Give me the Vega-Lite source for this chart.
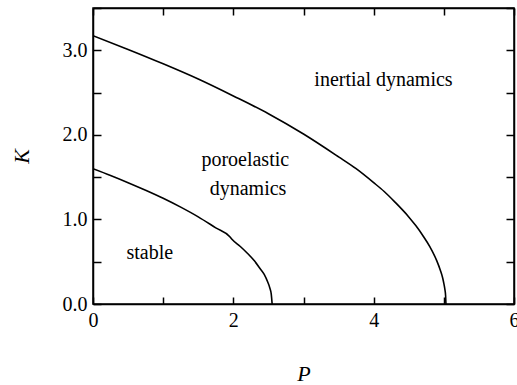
{
  "$schema": "https://vega.github.io/schema/vega-lite/v6.json",
  "width": 421,
  "height": 296,
  "autosize": {"type": "none"},
  "padding": {"left": 93, "top": 8, "right": 3, "bottom": 81},
  "background": "white",
  "config": {
    "view": {"stroke": "black", "strokeWidth": 1.5},
    "font": "Liberation Serif",
    "axis": {
      "grid": false,
      "domainColor": "black",
      "domainWidth": 1.5,
      "tickColor": "black",
      "tickWidth": 1.5,
      "labelColor": "black",
      "labelFont": "Liberation Serif",
      "labelFontSize": 20,
      "labelFlush": false,
      "labelOverlap": false,
      "titleFont": "Liberation Serif",
      "titleFontSize": 22,
      "titleFontStyle": "italic",
      "titleFontWeight": "normal",
      "titleColor": "black"
    }
  },
  "datasets": {
    "curves": [
      {"curve": "outer", "P": 0, "K": 3.172},
      {"curve": "outer", "P": 0.5, "K": 3.01},
      {"curve": "outer", "P": 1.0, "K": 2.84},
      {"curve": "outer", "P": 1.5, "K": 2.66},
      {"curve": "outer", "P": 2.0, "K": 2.46},
      {"curve": "outer", "P": 2.5, "K": 2.25},
      {"curve": "outer", "P": 3.0, "K": 2.01},
      {"curve": "outer", "P": 3.5, "K": 1.74},
      {"curve": "outer", "P": 3.75, "K": 1.6},
      {"curve": "outer", "P": 4.0, "K": 1.435},
      {"curve": "outer", "P": 4.15, "K": 1.33},
      {"curve": "outer", "P": 4.3, "K": 1.208},
      {"curve": "outer", "P": 4.5, "K": 1.03},
      {"curve": "outer", "P": 4.6, "K": 0.927},
      {"curve": "outer", "P": 4.7, "K": 0.81},
      {"curve": "outer", "P": 4.8, "K": 0.678},
      {"curve": "outer", "P": 4.9, "K": 0.51},
      {"curve": "outer", "P": 4.95, "K": 0.4},
      {"curve": "outer", "P": 4.98, "K": 0.32},
      {"curve": "outer", "P": 5.0, "K": 0.245},
      {"curve": "outer", "P": 5.015, "K": 0.173},
      {"curve": "outer", "P": 5.025, "K": 0.1},
      {"curve": "outer", "P": 5.03, "K": 0.0},
      {"curve": "inner", "P": 0, "K": 1.6},
      {"curve": "inner", "P": 0.25, "K": 1.52},
      {"curve": "inner", "P": 0.5, "K": 1.435},
      {"curve": "inner", "P": 0.75, "K": 1.345},
      {"curve": "inner", "P": 1.0, "K": 1.25},
      {"curve": "inner", "P": 1.25, "K": 1.145},
      {"curve": "inner", "P": 1.5, "K": 1.03},
      {"curve": "inner", "P": 1.75, "K": 0.9},
      {"curve": "inner", "P": 1.95, "K": 0.795},
      {"curve": "inner", "P": 1.98, "K": 0.765},
      {"curve": "inner", "P": 2.1, "K": 0.68},
      {"curve": "inner", "P": 2.2, "K": 0.6},
      {"curve": "inner", "P": 2.3, "K": 0.51},
      {"curve": "inner", "P": 2.38, "K": 0.42},
      {"curve": "inner", "P": 2.44, "K": 0.35},
      {"curve": "inner", "P": 2.49, "K": 0.26},
      {"curve": "inner", "P": 2.52, "K": 0.19},
      {"curve": "inner", "P": 2.54, "K": 0.12},
      {"curve": "inner", "P": 2.553, "K": 0.0}
    ],
    "labels": [
      {"P": 4.14, "K": 2.58, "text": "inertial dynamics"},
      {"P": 2.17, "K": 1.63, "text": "poroelastic"},
      {"P": 2.21, "K": 1.29, "text": "dynamics"},
      {"P": 0.81, "K": 0.53, "text": "stable"}
    ]
  },
  "layer": [
    {
      "data": {"name": "curves"},
      "mark": {"type": "line", "color": "black", "strokeWidth": 1.6, "interpolate": "monotone", "clip": true},
      "encoding": {
        "x": {
          "field": "P", "type": "quantitative",
          "scale": {"domain": [0, 6], "nice": false},
          "axis": {
            "orient": "bottom", "title": "P",
            "values": [0, 1, 2, 3, 4, 5, 6],
            "labelExpr": "datum.value % 2 == 0 ? format(datum.value, 'd') : ''",
            "tickSize": -7,
            "labelPadding": 13,
            "titlePadding": 33
          }
        },
        "y": {
          "field": "K", "type": "quantitative",
          "scale": {"domain": [0, 3.5], "nice": false, "zero": false},
          "axis": {
            "orient": "left", "title": "K",
            "values": [0, 0.5, 1, 1.5, 2, 2.5, 3, 3.5],
            "labelExpr": "datum.value % 1 == 0 ? format(datum.value, '.1f') : ''",
            "tickSize": -8,
            "labelPadding": 14,
            "titlePadding": 29
          }
        },
        "detail": {"field": "curve"}
      }
    },
    {
      "data": {"name": "curves"},
      "mark": {"type": "line", "opacity": 0},
      "encoding": {
        "x": {
          "field": "P", "type": "quantitative",
          "axis": {"orient": "top", "title": null, "labels": false, "values": [0, 1, 2, 3, 4, 5, 6], "tickSize": -7}
        },
        "y": {
          "field": "K", "type": "quantitative",
          "axis": {"orient": "right", "title": null, "labels": false, "values": [0, 0.5, 1, 1.5, 2, 2.5, 3, 3.5], "tickSize": -8}
        },
        "detail": {"field": "curve"}
      }
    },
    {
      "data": {"name": "labels"},
      "mark": {"type": "text", "font": "Liberation Serif", "fontSize": 20, "baseline": "alphabetic", "align": "center", "color": "black"},
      "encoding": {
        "x": {"field": "P", "type": "quantitative", "axis": null},
        "y": {"field": "K", "type": "quantitative", "axis": null},
        "text": {"field": "text"}
      }
    }
  ],
  "resolve": {"axis": {"x": "independent", "y": "independent"}}
}
